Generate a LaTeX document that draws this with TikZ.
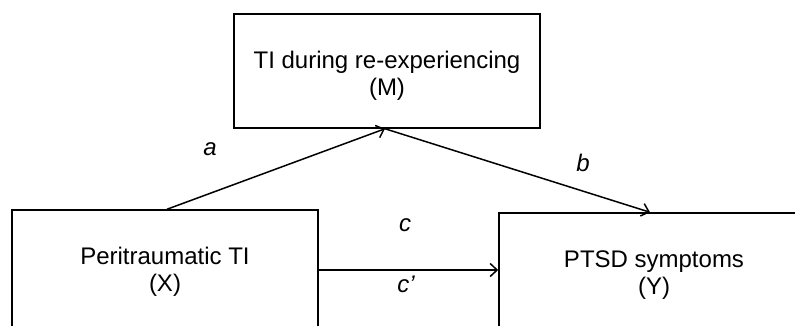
\documentclass[tikz,border=0pt]{standalone}
\usepackage{fontspec}
\setmainfont{Liberation Sans}
\usepackage{tikz}
\usetikzlibrary{arrows.meta}
\tikzset{
  >={Straight Barb[length=7pt,width=13pt]},
  x=1pt, y=-1pt,
  every node/.style={font=\fontsize{24}{27}\selectfont},
  varbox/.style={draw, line width=1.5pt, align=center, inner sep=0pt},
  path/.style={->, line width=1.5pt},
  coef/.style={font=\fontsize{24}{27}\selectfont\itshape},
}
\begin{document}
\begin{tikzpicture}
			      \useasboundingbox (0,0) rectangle (795,325);
			      \clip (0,0) rectangle (795,325);

			      % variables
			      \node[varbox, minimum width=306pt, minimum height=114pt] (M) at (387,71) {\rule{0pt}{26pt}TI during re-experiencing\\(M)};
			      \node[varbox, minimum width=306pt, minimum height=124pt] (X) at (165,272) {Peritraumatic TI\\(X)};
			      \node[varbox, minimum width=310pt, minimum height=124pt] (Y) at (654,275) {PTSD symptoms\\(Y)};

			      % paths
			      \draw[path] ([xshift=2pt]X.north) -- ([xshift=-2pt]M.south);
			      \draw[path] ([xshift=-2pt]M.south) -- ([xshift=-4pt]Y.north);
			      \draw[path] (X.east |- 0,270) -- (Y.west |- 0,270);

			      % coefficients
			      \node[coef] (a) at (210,149) {a};
			      \node[coef] (b) at (583,163) {b};
			      \node[coef] (c) at (405,225) {c};
			      \node[coef] (cp) at (406,284) {c’};

		      \end{tikzpicture}
\end{document}
